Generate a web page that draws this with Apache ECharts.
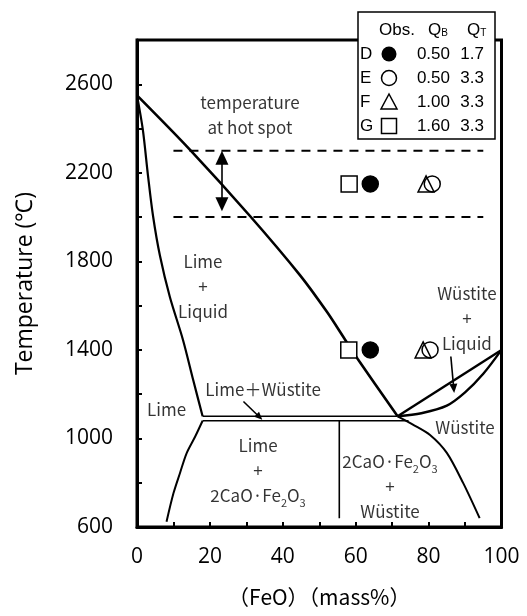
<!DOCTYPE html>
<html>
<head>
<meta charset="utf-8">
<script src="https://cdn.jsdelivr.net/npm/echarts@6/dist/echarts.min.js"></script>
<style>
html, body { margin: 0; padding: 0; background: #fff; }
#main { width: 527px; height: 616px; }
</style>
</head>
<body>
<div id="main"></div>
<script>
// phase boundaries: [FeO mass%, temperature]
var limeLiquidus = [[0, 2550], [1.6, 2395], [3, 2190], [4.4, 2005], [6.3, 1825], [9, 1640], [12.6, 1446], [15.4, 1265], [18, 1100]];
var mainLiquidus = [[0, 2550], [14.5, 2305], [31, 2005], [44.7, 1738], [52.1, 1572], [57.1, 1446], [60.6, 1358], [71.5, 1100]];
var limeSolvus = [[18, 1080], [16, 1010], [13.6, 933], [11.8, 844], [10, 752], [8.1, 624]];
var eutecticUpper = [[18, 1100], [71.5, 1100]];
var eutecticLower = [[18, 1080], [74.5, 1080]];
var c2fBoundary = [[55.5, 1080], [55.5, 640]];
var wustiteLiquidus = [[71.5, 1100], [100, 1400]];
var wustiteSolidus = [[71.5, 1100], [78, 1114], [85, 1148], [90, 1208], [95, 1292], [100, 1400]];
var wustiteSolvus = [[71.5, 1100], [75.7, 1063], [80.4, 1016], [85, 935], [89.5, 798], [94, 640]];
var hotSpotLevels = [2300, 2000];
var hotSpotRange = [10, 95];

// observations
var obsD = [[64, 2150], [64, 1400]];
var obsE = [[81, 2150], [80.4, 1400]];
var obsF = [[79.3, 2150], [78.5, 1400]];
var obsG = [[58.2, 2150], [58.1, 1400]];

// legend table
var obsNames = ['D', 'E', 'F', 'G'];
var qB = ['0.50', '0.50', '1.00', '1.60'];
var qT = ['1.7', '3.3', '3.3', '3.3'];

// region labels [text, x, y]
var notes = [
    ['temperature\nat hot spot', 31, 2462],
    ['Lime\n+\nLiquid', 18.1, 1685],
    ['Wüstite\n+\nLiquid', 90.5, 1540],
    ['Lime＋Wüstite', 34.6, 1220],
    ['Lime', 8.1, 1129],
    ['Wüstite', 90, 1048],
    ['Lime\n+\n2CaO·Fe{s|2}O{s|3}', 33.2, 853],
    ['2CaO·Fe{s|2}O{s|3}\n+\nWüstite', 69.4, 781]
];

// arrows [[x1, y1], [x2, y2]]
var hotArrow = [[23.3, 2268], [23.3, 2058]];
var limeWusArrow = [[29.2, 1167], [33.6, 1097]];
var wusArrow = [[86.1, 1370], [86.9, 1226]];

var chart = echarts.init(document.getElementById('main'), null, { renderer: 'canvas' });

function boundary(data, width, smooth) {
    return {
        type: 'line',
        data: data,
        showSymbol: false,
        symbol: 'none',
        smooth: smooth || false,
        lineStyle: { color: '#000', width: width },
        silent: true,
        z: 2
    };
}

var series = [
    boundary(limeLiquidus, 2.2, 0.3),
    boundary(mainLiquidus, 2.6, 0.3),
    boundary(limeSolvus, 2, 0.3),
    boundary(eutecticUpper, 1.6),
    boundary(eutecticLower, 1.6),
    boundary(c2fBoundary, 1.6),
    boundary(wustiteLiquidus, 2.4),
    boundary(wustiteSolidus, 2.4, 0.3),
    boundary(wustiteSolvus, 2, 0.3)
];

hotSpotLevels.forEach(function (t) {
    series.push({
        type: 'line',
        data: [[hotSpotRange[0], t], [hotSpotRange[1], t]],
        showSymbol: false,
        symbol: 'none',
        lineStyle: { color: '#000', width: 2, type: [9, 7] },
        silent: true,
        z: 2
    });
});

series.push({
    type: 'line',
    data: [],
    silent: true,
    markLine: {
        silent: true,
        animation: false,
        label: { show: false },
        lineStyle: { color: '#000', width: 1.6, type: 'solid' },
        data: [
            [{ coord: hotArrow[0], symbol: 'triangle', symbolSize: [13, 14] },
             { coord: hotArrow[1], symbol: 'triangle', symbolSize: [13, 14] }],
            [{ coord: limeWusArrow[0], symbol: 'none' },
             { coord: limeWusArrow[1], symbol: 'triangle', symbolSize: [7, 8] }],
            [{ coord: wusArrow[0], symbol: 'none' },
             { coord: wusArrow[1], symbol: 'triangle', symbolSize: [8, 9] }]
        ]
    }
});

function marker(data, symbol, fill, z) {
    return {
        type: 'scatter',
        data: data,
        symbol: symbol,
        symbolSize: 16,
        itemStyle: { color: fill, borderColor: '#000', borderWidth: 1.5, opacity: 1 },
        silent: true,
        z: z
    };
}
series.push(marker(obsG, 'rect', '#fff', 5));
series.push(marker(obsD, 'circle', '#000', 5));
series.push(marker(obsE, 'circle', '#fff', 5));
series.push(marker(obsF, 'triangle', 'rgba(0,0,0,0)', 6));

series.push({
    type: 'scatter',
    symbolSize: 0,
    silent: true,
    z: 7,
    data: notes.map(function (n) {
        return { value: [n[1], n[2]], label: { formatter: n[0] } };
    }),
    label: {
        show: true,
        position: 'inside',
        color: '#000',
        fontFamily: 'Noto Sans CJK JP',
        fontSize: 17,
        lineHeight: 25,
        align: 'center',
        rich: {
            s: { fontSize: 11, lineHeight: 12, verticalAlign: 'bottom', fontFamily: 'Noto Sans CJK JP' }
        }
    }
});

// legend table drawn as a boxed grid of text
var rowY = [54, 78, 102, 126];
var tableFont = '17px "Liberation Sans"';
var subRich = { s: { fontSize: 10, lineHeight: 10, verticalAlign: 'bottom', fontFamily: 'Liberation Sans' } };
var graphics = [
    { type: 'rect', shape: { x: 358, y: 12, width: 137, height: 127 }, style: { fill: '#fff', stroke: '#000', lineWidth: 1.5 }, z: 100 },
    { type: 'text', x: 379, y: 30, style: { text: 'Obs.', font: tableFont, fill: '#000', verticalAlign: 'middle' }, z: 101 },
    { type: 'text', x: 428, y: 30, style: { text: 'Q{s|B}', font: tableFont, fill: '#000', verticalAlign: 'middle', rich: subRich }, z: 101 },
    { type: 'text', x: 467, y: 30, style: { text: 'Q{s|T}', font: tableFont, fill: '#000', verticalAlign: 'middle', rich: subRich }, z: 101 }
];
obsNames.forEach(function (name, i) {
    var y = rowY[i];
    graphics.push({ type: 'text', x: 360, y: y, style: { text: name, font: tableFont, fill: '#000', verticalAlign: 'middle' }, z: 101 });
    graphics.push({ type: 'text', x: 450, y: y, style: { text: qB[i], font: tableFont, fill: '#000', align: 'right', verticalAlign: 'middle' }, z: 101 });
    graphics.push({ type: 'text', x: 484, y: y, style: { text: qT[i], font: tableFont, fill: '#000', align: 'right', verticalAlign: 'middle' }, z: 101 });
});
graphics.push({ type: 'circle', shape: { cx: 389, cy: rowY[0], r: 7.5 }, style: { fill: '#000' }, z: 101 });
graphics.push({ type: 'circle', shape: { cx: 389, cy: rowY[1], r: 7.5 }, style: { fill: '#fff', stroke: '#000', lineWidth: 1.5 }, z: 101 });
graphics.push({ type: 'polygon', shape: { points: [[381, rowY[2] + 7], [397, rowY[2] + 7], [389, rowY[2] - 8]] }, style: { fill: '#fff', stroke: '#000', lineWidth: 1.5 }, z: 101 });
graphics.push({ type: 'rect', shape: { x: 381.5, y: rowY[3] - 7.5, width: 15, height: 15 }, style: { fill: '#fff', stroke: '#000', lineWidth: 1.5 }, z: 101 });

var option = {
    animation: false,
    backgroundColor: '#fff',
    textStyle: { fontFamily: 'Open Sans' },
    grid: {
        left: 137,
        right: 25.5,
        top: 40,
        bottom: 89,
        show: true,
        borderColor: '#000',
        borderWidth: 3,
        backgroundColor: 'transparent'
    },
    xAxis: {
        type: 'value',
        min: 0,
        max: 100,
        interval: 10,
        name: '（FeO）（mass%）',
        nameLocation: 'middle',
        nameGap: 60,
        nameTextStyle: { color: '#000', fontSize: 21, fontFamily: 'Noto Sans CJK JP' },
        axisLine: { lineStyle: { color: '#000', width: 3 } },
        axisTick: { inside: true, length: 5, lineStyle: { color: '#000', width: 2 } },
        axisLabel: {
            color: '#000',
            fontSize: 21,
            margin: 20,
            formatter: function (v) { return v % 20 === 0 ? String(v) : ''; }
        },
        splitLine: { show: false }
    },
    yAxis: {
        type: 'value',
        min: 600,
        max: 2800,
        interval: 200,
        name: 'Temperature (℃)',
        nameLocation: 'middle',
        nameGap: 100,
        nameTextStyle: { color: '#000', fontSize: 23 },
        axisLine: { lineStyle: { color: '#000', width: 3 } },
        axisTick: { inside: true, length: 5, lineStyle: { color: '#000', width: 2 } },
        axisLabel: {
            color: '#000',
            fontSize: 21,
            margin: 24,
            formatter: function (v) { return v % 400 === 200 ? String(v) : ''; }
        },
        splitLine: { show: false }
    },
    graphic: graphics,
    series: series
};

chart.setOption(option);

window.onresize = function () {
    chart.resize();
};
</script>
</body>
</html>
